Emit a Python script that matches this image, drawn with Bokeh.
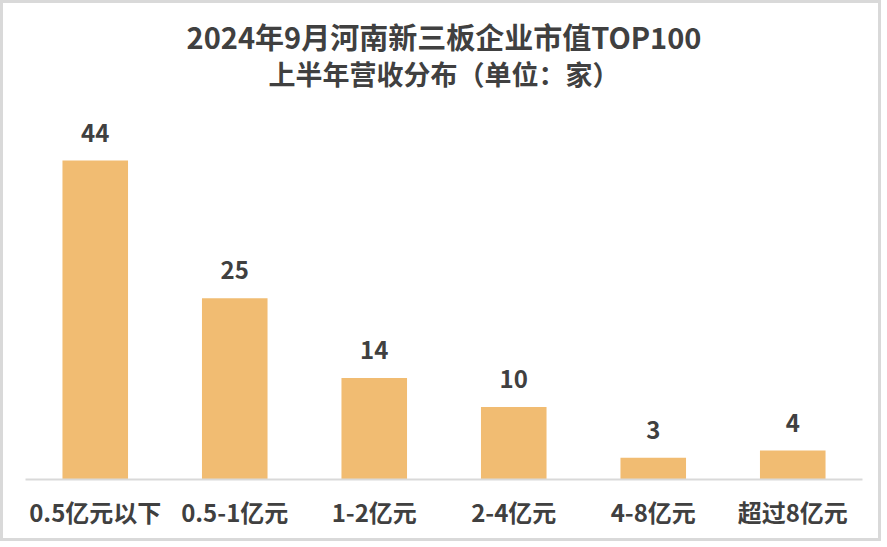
from bokeh.plotting import figure
from bokeh.models import ColumnDataSource, LabelSet, Label, FactorRange, Range1d
from bokeh.core.properties import value
from bokeh.embed import file_html
from bokeh.resources import INLINE

categories = ["0.5亿元以下", "0.5-1亿元", "1-2亿元", "2-4亿元", "4-8亿元", "超过8亿元"]
counts = [44, 25, 14, 10, 3, 4]
title_line1 = "2024年9月河南新三板企业市值TOP100"
title_line2 = "上半年营收分布（单位：家）"

FONT = "Noto Sans CJK SC"
TEXT_COLOR = "#404040"
BAR_COLOR = "#F1BC72"

BORDER = 3
W, H = 887 - 2 * BORDER, 547 - 2 * BORDER
ML, MR, MT, MB = 22, 22, 0, 65
FW, FH = W - ML - MR, H - MT - MB

src = ColumnDataSource(dict(cat=categories, val=counts, lab=[str(v) for v in counts]))

p = figure(
    width=W, height=H,
    x_range=FactorRange(*categories, range_padding=0),
    y_range=Range1d(0, FH / 7.25),
    output_backend="svg", toolbar_location=None, title=None,
    min_border_left=ML, min_border_right=MR, min_border_top=MT, min_border_bottom=MB,
)
p.styles = {"border": f"{BORDER}px solid #d9d9d9"}

p.vbar(x="cat", top="val", width=0.47, source=src, color=BAR_COLOR, line_color=None)

labels = LabelSet(x="cat", y="val", text="lab", source=src, y_offset=19,
                  text_align="center", text_baseline="alphabetic",
                  text_font=value(FONT), text_font_size=value("24px"),
                  text_font_style=value("bold"), text_color=value(TEXT_COLOR))
p.add_layout(labels)

# two-line title, placed in screen units from the frame's bottom-left corner
for txt, cy, fs in [(title_line1, 32, "29px"), (title_line2, 70, "27px")]:
    p.add_layout(Label(x=FW / 2, y=FH - cy, x_units="screen", y_units="screen",
                       text=txt, text_align="center", text_baseline="middle",
                       text_font=FONT, text_font_size=fs, text_font_style="bold",
                       text_color=TEXT_COLOR))

p.yaxis.visible = False
p.xgrid.grid_line_color = None
p.ygrid.grid_line_color = None
p.outline_line_color = None
p.xaxis.axis_line_color = "#d9d9d9"
p.xaxis.axis_line_width = 2
p.xaxis.major_tick_line_color = None
p.xaxis.minor_tick_line_color = None
p.xaxis.major_tick_out = 0
p.xaxis.major_label_standoff = 14
p.xaxis.major_label_text_font = FONT
p.xaxis.major_label_text_font_size = "24px"
p.xaxis.major_label_text_font_style = "bold"
p.xaxis.major_label_text_color = TEXT_COLOR
p.x_range.group_padding = 0

open("out.html", "w").write(file_html(p, INLINE))
